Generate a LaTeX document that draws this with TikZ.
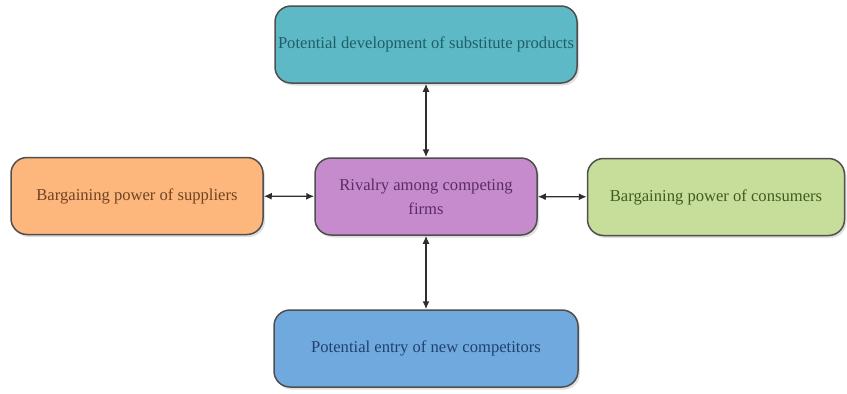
\documentclass[tikz,border=0pt]{standalone}
\usepackage{fontspec}
\setmainfont{Liberation Serif}
\usetikzlibrary{shadows,arrows.meta}
\definecolor{tealfill}{HTML}{5DB9C5}
\definecolor{tealtext}{HTML}{1E5F68}
\definecolor{orangefill}{HTML}{FDB67C}
\definecolor{orangetext}{HTML}{6E4424}
\definecolor{purplefill}{HTML}{C68BCC}
\definecolor{purpletext}{HTML}{5B2C64}
\definecolor{greenfill}{HTML}{C6DE99}
\definecolor{greentext}{HTML}{405C20}
\definecolor{bluefill}{HTML}{70A9DD}
\definecolor{bluetext}{HTML}{1F416F}
\definecolor{edgegray}{HTML}{4F4F4F}
\definecolor{arrowgray}{HTML}{2E2E2E}
\tikzset{
  force/.style={draw=edgegray, line width=1.5pt, rounded corners=16pt,
    minimum height=77pt, inner sep=0pt, align=center,
    font=\fontsize{16.6}{24}\selectfont,
    drop shadow={opacity=0.25, shadow xshift=2pt, shadow yshift=-2.5pt}},
  link/.style={arrowgray, line width=1.4pt, {Latex[length=8pt,width=7pt]}-{Latex[length=8pt,width=7pt]}}
}
\begin{document}
\begin{tikzpicture}[x=1pt,y=-1pt]
\useasboundingbox (0,0) rectangle (847,394);
\node[force, fill=tealfill, text=tealtext, minimum width=302pt] (top) at (426,44.5) {Potential development of substitute products};
\node[force, fill=orangefill, text=orangetext, minimum width=252pt] (left) at (137,196) {Bargaining power of suppliers};
\node[force, fill=purplefill, text=purpletext, minimum width=222pt] (mid) at (426,196.5) {Rivalry among competing\\firms};
\node[force, fill=greenfill, text=greentext, minimum width=257pt] (right) at (716,197) {Bargaining power of consumers};
\node[force, fill=bluefill, text=bluetext, minimum width=304pt] (bot) at (426,348.5) {Potential entry of new competitors};
\draw[link] (top) -- (mid);
\draw[link] (mid) -- (bot);
\draw[link] (left) -- (mid);
\draw[link] (mid) -- (right);
\end{tikzpicture}
\end{document}
